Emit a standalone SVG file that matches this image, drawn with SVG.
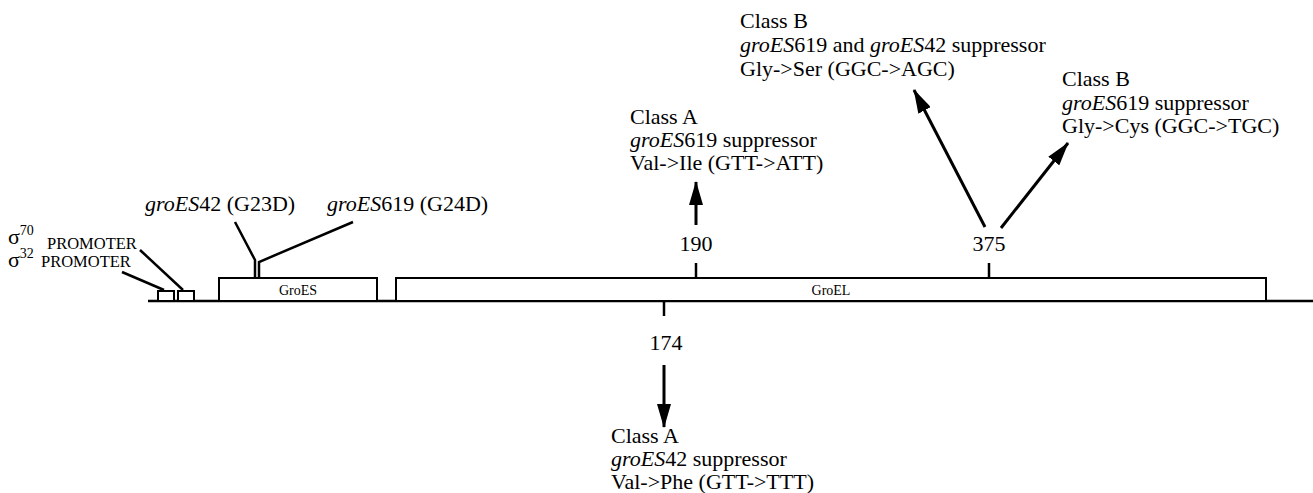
<svg xmlns="http://www.w3.org/2000/svg" width="1313" height="493" viewBox="0 0 1313 493">
<style>
text{font-family:"Liberation Serif","Times New Roman",serif;fill:#000}
.t{font-size:22px}
.i{font-style:italic}
.s{font-size:14px}
.p{font-size:16.5px}
.sup{font-size:14px}
.box{fill:#fff;stroke:#000;stroke-width:2}
.ln{stroke:#000;stroke-width:2.5;fill:none}
.ar{stroke:#000;stroke-width:3;fill:none;marker-end:url(#ah)}
</style>
<defs>
<marker id="ah" viewBox="0 0 24 14" refX="23" refY="7" markerWidth="24" markerHeight="14" markerUnits="userSpaceOnUse" orient="auto">
<path d="M0,0 L24,7 L0,14 z" fill="#000"/>
</marker>
</defs>
<rect width="1313" height="493" fill="#fff"/>
<g id="backbone">
<line x1="148" y1="301" x2="1313" y2="301" stroke="#000" stroke-width="2.5"/>
</g>
<g id="promoter70">
<rect class="box" x="178" y="291" width="16" height="10"/>
<text x="8" y="244" class="t">σ<tspan class="sup" dy="-9">70</tspan></text>
<text x="47" y="249" class="p">PROMOTER</text>
</g>
<g id="promoter32">
<rect class="box" x="158" y="291" width="16" height="10"/>
<text x="8" y="267" class="t">σ<tspan class="sup" dy="-9">32</tspan></text>
<text x="41" y="267" class="p">PROMOTER</text>
</g>
<g id="groES">
<rect class="box" x="219" y="278" width="158" height="23"/>
<text x="298" y="295" class="s" text-anchor="middle">GroES</text>
</g>
<g id="groEL">
<rect class="box" x="396" y="278" width="870" height="23"/>
<text x="831" y="295" class="s" text-anchor="middle">GroEL</text>
</g>
<g id="mut42">
<text x="145" y="211" class="t"><tspan class="i">groES</tspan>42 (G23D)</text>
</g>
<g id="mut619">
<text x="327" y="211" class="t"><tspan class="i">groES</tspan>619 (G24D)</text>
</g>
<g id="site190">
<text x="696" y="251" class="t" text-anchor="middle">190</text>
<text x="630" y="124" class="t">Class A</text>
<text x="630" y="147" class="t"><tspan class="i">groES</tspan>619 suppressor</text>
<text x="630" y="170" class="t">Val-&gt;Ile (GTT-&gt;ATT)</text>
</g>
<g id="site375">
<text x="989" y="251" class="t" text-anchor="middle">375</text>
<text x="740" y="28" class="t">Class B</text>
<text x="740" y="52" class="t"><tspan class="i">groES</tspan>619 and <tspan class="i">groES</tspan>42 suppressor</text>
<text x="740" y="76" class="t">Gly-&gt;Ser (GGC-&gt;AGC)</text>
<text x="1062" y="86" class="t">Class B</text>
<text x="1062" y="110" class="t"><tspan class="i">groES</tspan>619 suppressor</text>
<text x="1062" y="133" class="t">Gly-&gt;Cys (GGC-&gt;TGC)</text>
</g>
<g id="site174">
<text x="666" y="350" class="t" text-anchor="middle">174</text>
<text x="611" y="443" class="t">Class A</text>
<text x="611" y="466" class="t"><tspan class="i">groES</tspan>42 suppressor</text>
<text x="611" y="489" class="t">Val-&gt;Phe (GTT-&gt;TTT)</text>
</g>
<g id="connectors">
<polyline class="ln" points="140,250 183,290"/>
<polyline class="ln" points="122,272 164,290"/>
<polyline class="ln" points="235,222 255,260 255,278"/>
<polyline class="ln" points="353,222 259,262 259,278"/>
<line class="ln" x1="696" y1="263" x2="696" y2="278" stroke-width="2"/>
<line class="ln" x1="989" y1="263" x2="989" y2="278" stroke-width="2"/>
<line class="ln" x1="664" y1="301" x2="664" y2="316" stroke-width="2"/>
<line class="ar" x1="696" y1="225" x2="696" y2="182"/>
<line class="ar" x1="664" y1="365" x2="664" y2="427"/>
<line class="ar" x1="985" y1="227" x2="914" y2="90"/>
<line class="ar" x1="1001" y1="228" x2="1068" y2="143"/>
</g>
</svg>
